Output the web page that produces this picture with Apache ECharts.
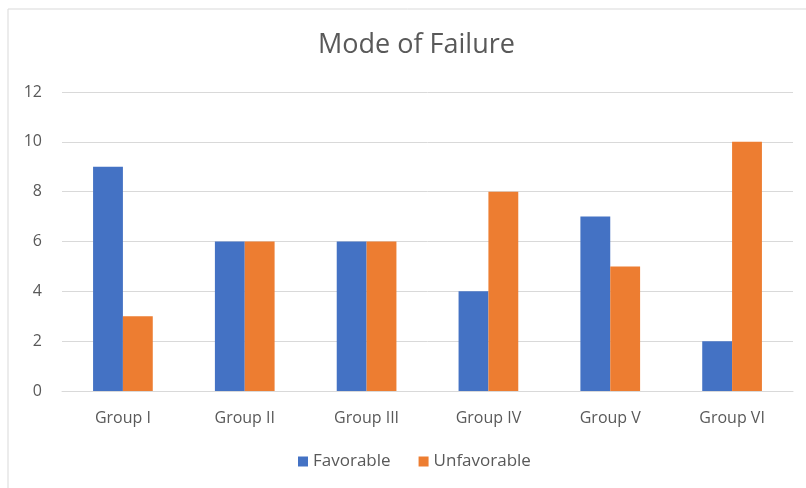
<!DOCTYPE html>
<html>
<head>
<meta charset="utf-8">
<script src="https://cdn.jsdelivr.net/npm/echarts@6/dist/echarts.min.js"></script>
<style>
  html, body { margin: 0; padding: 0; background: #fff; }
  #chart { width: 806px; height: 488px; }
</style>
</head>
<body>
<div id="chart"></div>
<script>
// 数据
var groups = ['Group I', 'Group II', 'Group III', 'Group IV', 'Group V', 'Group VI'];
var favorable = [9, 6, 6, 4, 7, 2];
var unfavorable = [3, 6, 6, 8, 5, 10];

var chart = echarts.init(document.getElementById('chart'), null, { renderer: 'canvas' });

var option = {
  backgroundColor: '#fff',
  color: ['#4472C4', '#ED7D31'],
  textStyle: { fontFamily: '"Open Sans", "Noto Sans", sans-serif' },
  // 外边框
  graphic: [{
    type: 'rect',
    shape: { x: 8, y: 9, width: 820, height: 500 },
    style: { fill: 'none', stroke: '#d9d9d9', lineWidth: 1 },
    silent: true
  }],
  title: {
    text: 'Mode of Failure',
    left: 313,
    top: 27,
    textStyle: {
      fontWeight: 'normal',
      fontSize: 27,
      color: '#595959'
    }
  },
  legend: {
    data: ['Favorable', 'Unfavorable'],
    bottom: 13,
    left: 293,
    itemWidth: 10,
    itemHeight: 10,
    itemGap: 28,
    icon: 'rect',
    textStyle: { fontSize: 17, color: '#595959' }
  },
  grid: {
    left: 62,
    right: 13,
    top: 92,
    bottom: 97,
    containLabel: false
  },
  xAxis: {
    type: 'category',
    data: groups,
    axisLine: { show: true, lineStyle: { color: '#d9d9d9' } },
    axisTick: { show: false },
    axisLabel: { fontSize: 16, color: '#595959', margin: 19 }
  },
  yAxis: {
    type: 'value',
    min: 0,
    max: 12,
    interval: 2,
    axisLine: { show: false },
    axisTick: { show: false },
    splitLine: { lineStyle: { color: '#d9d9d9' } },
    axisLabel: { fontSize: 16, color: '#595959', margin: 20 }
  },
  series: [{
    name: 'Favorable',
    type: 'bar',
    data: favorable,
    barGap: '0%',
    barCategoryGap: '51%'
  }, {
    name: 'Unfavorable',
    type: 'bar',
    data: unfavorable,
    barGap: '0%',
    barCategoryGap: '51%'
  }]
};
chart.setOption(option);
</script>
</body>
</html>
